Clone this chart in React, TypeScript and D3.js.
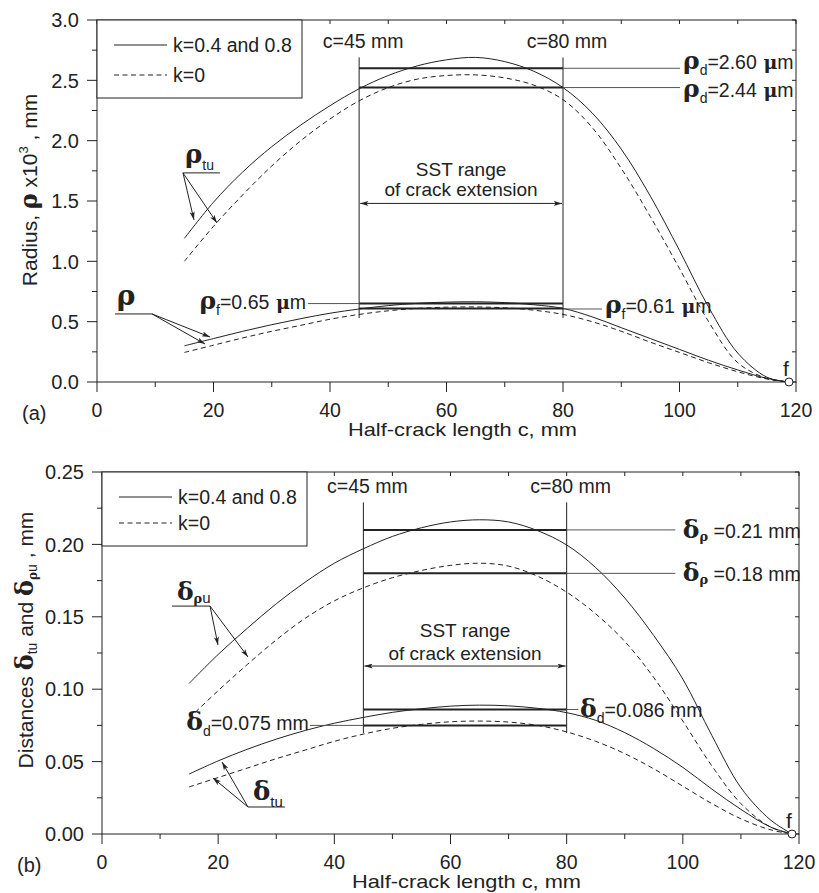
import React, { useEffect, useRef } from "react";
import * as d3 from "d3";

const W = 819;
const H = 893;
const SANS = "'Liberation Sans', Arial, sans-serif";
const GREEK = "'DejaVu Serif', serif";
const INK = "#222";

// half-crack length c, mm (shared grid of both panels)
const crack = [15, 20, 25, 30, 35, 40, 45, 50, 55, 60, 65, 70, 75, 80, 85, 90, 95, 100, 105, 110, 115, 118.8];

// panel (a): radius rho x10^3, mm
const rhoTuK48 = [1.19, 1.49, 1.74, 1.95, 2.13, 2.29, 2.43, 2.54, 2.62, 2.67, 2.69, 2.655, 2.575, 2.44, 2.23, 1.93, 1.54, 1.09, 0.62, 0.24, 0.04, 0];
const rhoTuK0 = [1.0, 1.29, 1.55, 1.79, 2.0, 2.18, 2.33, 2.44, 2.51, 2.54, 2.545, 2.52, 2.46, 2.34, 2.11, 1.77, 1.37, 0.94, 0.5, 0.16, 0.03, 0];
const rhoK48 = [0.3, 0.36, 0.42, 0.475, 0.525, 0.57, 0.605, 0.633, 0.652, 0.662, 0.665, 0.658, 0.64, 0.61, 0.54, 0.45, 0.36, 0.27, 0.18, 0.1, 0.03, 0];
const rhoK0 = [0.245, 0.305, 0.365, 0.42, 0.47, 0.52, 0.56, 0.59, 0.61, 0.62, 0.622, 0.615, 0.595, 0.56, 0.5, 0.42, 0.33, 0.245, 0.16, 0.085, 0.025, 0];

// panel (b): distances, mm
const dRhoUK48 = [0.104, 0.124, 0.142, 0.159, 0.174, 0.187, 0.197, 0.2055, 0.2115, 0.2155, 0.217, 0.2155, 0.2095, 0.1996, 0.184, 0.163, 0.137, 0.107, 0.068, 0.032, 0.01, 0];
const dRhoUK0 = [0.08, 0.099, 0.117, 0.134, 0.149, 0.161, 0.17, 0.177, 0.182, 0.1855, 0.187, 0.185, 0.178, 0.167, 0.152, 0.133, 0.108, 0.078, 0.047, 0.021, 0.005, 0];
const dTuK48 = [0.0414, 0.0505, 0.0585, 0.0655, 0.0715, 0.0765, 0.0805, 0.084, 0.0865, 0.0883, 0.089, 0.0885, 0.0868, 0.0838, 0.0785, 0.07, 0.059, 0.046, 0.031, 0.017, 0.005, 0];
const dTuK0 = [0.0325, 0.039, 0.0455, 0.052, 0.058, 0.064, 0.069, 0.073, 0.0757, 0.0775, 0.078, 0.0773, 0.075, 0.0705, 0.064, 0.0555, 0.045, 0.033, 0.021, 0.0105, 0.003, 0];

// SST range and marked levels
const sstRange = [45, 80];
const levelsA = [2.6, 2.44, 0.65, 0.61];
const levelsB = [0.21, 0.18, 0.086, 0.075];
const endPoint = 118.8;

const legendLabels = ["k=0.4 and 0.8", "k=0"];

type Part = { t: string; g?: boolean; sub?: number; s?: number };

function rich(g: any, x: number, y: number, parts: Part[], size: number, anchor = "start", rotate = false) {
  const text = g.append("text")
    .attr("x", x).attr("y", y)
    .attr("font-family", SANS).attr("font-size", size)
    .attr("text-anchor", anchor).attr("fill", INK);
  if (rotate) text.attr("transform", `rotate(-90,${x},${y})`);
  let shift = 0;
  parts.forEach(p => {
    const target = p.sub ?? 0;
    const ts = text.append("tspan").attr("dy", target - shift).text(p.t);
    shift = target;
    if (p.g) ts.attr("font-family", GREEK).attr("font-weight", "bold");
    if (p.s) ts.attr("font-size", p.s);
  });
  return text;
}

function line(g: any, x1: number, y1: number, x2: number, y2: number, w = 1, col = INK) {
  return g.append("line").attr("x1", x1).attr("y1", y1).attr("x2", x2).attr("y2", y2)
    .attr("stroke", col).attr("stroke-width", w);
}

function drawFrame(g: any, x: any, y: any, yMajor: number[], yMinor: number[], fmt: (v: number) => string, tag: string, tagX: number) {
  const [l, r] = x.range();
  const [b, t] = y.range();
  g.append("rect").attr("x", l).attr("y", t).attr("width", r - l).attr("height", b - t)
    .attr("fill", "none").attr("stroke", INK).attr("stroke-width", 1);
  const xMajor = d3.range(0, 121, 20);
  const xMinor = d3.range(10, 121, 20);
  xMajor.forEach(v => {
    line(g, x(v), b, x(v), b + 10);
    line(g, x(v), t, x(v), t + 4);
    g.append("text").attr("x", x(v)).attr("y", b + 35).attr("text-anchor", "middle")
      .attr("font-family", SANS).attr("font-size", 19.5).attr("fill", INK).text(v);
  });
  xMinor.forEach(v => {
    line(g, x(v), b, x(v), b + 5);
    line(g, x(v), t, x(v), t + 4);
  });
  yMajor.forEach(v => {
    line(g, l - 10, y(v), l, y(v));
    line(g, r - 4, y(v), r, y(v));
    g.append("text").attr("x", l - 18).attr("y", y(v)).attr("dy", "0.36em").attr("text-anchor", "end")
      .attr("font-family", SANS).attr("font-size", 20).attr("fill", INK).text(fmt(v));
  });
  yMinor.forEach(v => {
    line(g, l - 5, y(v), l, y(v));
    line(g, r - 4, y(v), r, y(v));
  });
  g.append("text").attr("x", (l + r) / 2 + 16).attr("y", b + 54).attr("text-anchor", "middle")
    .attr("font-family", SANS).attr("font-size", 19).attr("fill", INK)
    .attr("textLength", 229).attr("lengthAdjust", "spacingAndGlyphs")
    .text("Half-crack length c, mm");
  g.append("text").attr("x", tagX).attr("y", b + 38).attr("font-family", SANS)
    .attr("font-size", 20).attr("fill", INK).text(tag);
}

function drawCurves(g: any, x: any, y: any, solid: number[], dashed: number[]) {
  const gen = d3.line<number>().x((_, i) => x(crack[i])).y(v => y(v)).curve(d3.curveCatmullRom.alpha(0.5));
  g.append("path").attr("d", gen(solid)).attr("fill", "none").attr("stroke", INK).attr("stroke-width", 1);
  g.append("path").attr("d", gen(dashed)).attr("fill", "none").attr("stroke", INK).attr("stroke-width", 1)
    .attr("stroke-dasharray", "5,3.5");
}

function drawLegend(g: any, l: number, t: number, gap: number) {
  g.append("rect").attr("x", l).attr("y", t).attr("width", 205).attr("height", 25 + gap + 23)
    .attr("fill", "white").attr("stroke", INK).attr("stroke-width", 1);
  legendLabels.forEach((lab, i) => {
    const yy = t + 25 + i * gap;
    line(g, l + 17, yy, l + 70, yy).attr("stroke-dasharray", i ? "5,3.5" : null);
    g.append("text").attr("x", l + 76).attr("y", yy + 7).attr("font-family", SANS)
      .attr("font-size", 19.5).attr("fill", INK).text(lab);
  });
}

function drawSST(g: any, x: any, y: any, top: number, bottom: number, arrowV: number, t1: number, t2: number) {
  sstRange.forEach(c => {
    line(g, x(c), y(top), x(c), y(bottom));
    g.append("text").attr("x", x(c) + 4).attr("y", y(top) - 9).attr("text-anchor", "middle")
      .attr("font-family", SANS).attr("font-size", 19.5).attr("fill", INK).text(`c=${c} mm`);
  });
  const cx = x((sstRange[0] + sstRange[1]) / 2);
  line(g, x(sstRange[0]) + 1, y(arrowV), x(sstRange[1]) - 1, y(arrowV))
    .attr("marker-start", "url(#ah)").attr("marker-end", "url(#ah)");
  g.append("text").attr("x", cx).attr("y", y(t1)).attr("text-anchor", "middle")
    .attr("font-family", SANS).attr("font-size", 19).attr("fill", INK).text("SST range");
  g.append("text").attr("x", cx).attr("y", y(t2)).attr("text-anchor", "middle")
    .attr("font-family", SANS).attr("font-size", 19).attr("fill", INK).text("of crack extension");
}

function pointer(g: any, x: any, y: any, from: number[], tips: number[][], under: number) {
  line(g, x(under), y(from[1]), x(from[0]), y(from[1]));
  tips.forEach(tp => line(g, x(from[0]), y(from[1]), x(tp[0]), y(tp[1])).attr("marker-end", "url(#ah)"));
}

function endMark(g: any, x: any, y: any) {
  g.append("text").attr("x", x(endPoint) - 3).attr("y", y(0) - 6).attr("text-anchor", "middle")
    .attr("font-family", SANS).attr("font-size", 21).attr("fill", INK).text("f");
  g.append("circle").attr("cx", x(endPoint)).attr("cy", y(0)).attr("r", 4)
    .attr("fill", "white").attr("stroke", INK).attr("stroke-width", 1);
}

export default function App() {
  const ref = useRef<SVGSVGElement>(null);

  useEffect(() => {
    const svg = d3.select(ref.current);
    svg.selectAll("*").remove();
    svg.append("defs").append("marker").attr("id", "ah")
      .attr("viewBox", "0 0 10 6").attr("refX", 10).attr("refY", 3)
      .attr("markerWidth", 10).attr("markerHeight", 5).attr("markerUnits", "userSpaceOnUse")
      .attr("orient", "auto-start-reverse")
      .append("path").attr("d", "M0,0 L10,3 L0,6 L2.5,3 Z").attr("fill", INK);

    // ---------- panel (a)
    const ga = svg.append("g");
    const xa = d3.scaleLinear().domain([0, 120]).range([97, 796]);
    const ya = d3.scaleLinear().domain([0, 3]).range([382, 20]);
    drawFrame(ga, xa, ya, d3.range(0, 3.01, 0.5), d3.range(0.25, 3, 0.5), d3.format(".1f"), "(a)", 22);
    drawLegend(ga, 97, 20, 30);
    drawCurves(ga, xa, ya, rhoTuK48, rhoTuK0);
    drawCurves(ga, xa, ya, rhoK48, rhoK0);
    drawSST(ga, xa, ya, 2.69, 0.53, 1.48, 1.71, 1.54);
    levelsA.forEach(v => line(ga, xa(sstRange[0]), ya(v), xa(sstRange[1]), ya(v), 2));
    // thin leaders to the level labels
    line(ga, xa(sstRange[1]), ya(levelsA[0]), xa(100.1), ya(levelsA[0]), 1, "#555");
    line(ga, xa(sstRange[1]), ya(levelsA[1]), xa(100.1), ya(levelsA[1]), 1, "#555");
    line(ga, xa(36.2), ya(levelsA[2]), xa(sstRange[0]), ya(levelsA[2]), 1, "#555");
    line(ga, xa(sstRange[1]), ya(0.605), xa(86.7), ya(0.605), 1, "#555");
    const rhoLab = (sub: string, val: string): Part[] => [
      { t: "ρ", g: true, s: 25 }, { t: sub, sub: 6, s: 14 }, { t: `=${val}`, sub: 0 },
      { t: " μ", g: true, s: 19 }, { t: "m" },
    ];
    rich(ga, xa(100.6), ya(levelsA[0]) + 1, rhoLab("d", "2.60"), 19.5);
    rich(ga, xa(100.6), ya(levelsA[1]) + 9, rhoLab("d", "2.44"), 19.5);
    rich(ga, xa(35.9), ya(levelsA[2]) + 5, rhoLab("f", "0.65"), 19.5, "end");
    rich(ga, xa(87.2), ya(levelsA[3]) + 5, rhoLab("f", "0.61"), 19.5);
    // curve labels with pointers
    rich(ga, xa(15.1), ya(1.815), [{ t: "ρ", g: true, s: 26 }, { t: "tu", sub: 7, s: 14 }], 19);
    pointer(ga, xa, ya, [14.76, 1.733], [[16.65, 1.343], [20.6, 1.318]], 21.1);
    rich(ga, xa(3.4), ya(0.64), [{ t: "ρ", g: true, s: 28 }], 19);
    line(ga, xa(3.09), ya(0.564), xa(9.44), ya(0.564));
    [[19.4, 0.373], [18.54, 0.315]].forEach(tp =>
      line(ga, xa(9.44), ya(0.564), xa(tp[0]), ya(tp[1])).attr("marker-end", "url(#ah)"));
    endMark(ga, xa, ya);
    rich(ga, 37, 190, [
      { t: "Radius, " }, { t: "ρ", g: true, s: 24 }, { t: " x10" }, { t: "3", sub: -9, s: 13 },
      { t: " , mm", sub: 0 },
    ], 21, "middle", true);

    // ---------- panel (b)
    const gb = svg.append("g");
    const xb = d3.scaleLinear().domain([0, 120]).range([102, 799]);
    const yb = d3.scaleLinear().domain([0, 0.25]).range([834, 472]);
    drawFrame(gb, xb, yb, d3.range(0, 0.2501, 0.05), d3.range(0.025, 0.25, 0.05), d3.format(".2f"), "(b)", 17);
    drawLegend(gb, 102, 472, 26);
    drawCurves(gb, xb, yb, dRhoUK48, dRhoUK0);
    drawCurves(gb, xb, yb, dTuK48, dTuK0);
    drawSST(gb, xb, yb, 0.229, 0.0697, 0.116, 0.1362, 0.1202);
    levelsB.forEach(v => line(gb, xb(sstRange[0]), yb(v), xb(sstRange[1]), yb(v), 2));
    line(gb, xb(sstRange[1]), yb(levelsB[0]), xb(98.7), yb(levelsB[0]), 1, "#555");
    line(gb, xb(sstRange[1]), yb(levelsB[1]), xb(98.7), yb(levelsB[1]), 1, "#555");
    line(gb, xb(sstRange[1]), yb(levelsB[2]), xb(82), yb(levelsB[2]), 1, "#555");
    line(gb, xb(35.8), yb(levelsB[3]), xb(sstRange[0]), yb(levelsB[3]), 1, "#555");
    const dRho = (val: string): Part[] => [
      { t: "δ", g: true, s: 25 }, { t: "ρ", g: true, sub: 3, s: 13 }, { t: ` =${val} mm`, sub: 0 },
    ];
    rich(gb, xb(100), yb(levelsB[0]) + 8, dRho("0.21"), 19.5);
    rich(gb, xb(100), yb(levelsB[1]) + 8, dRho("0.18"), 19.5);
    const dD = (val: string): Part[] => [
      { t: "δ", g: true, s: 25 }, { t: "d", sub: 6, s: 14 }, { t: `=${val} mm`, sub: 0 },
    ];
    rich(gb, xb(82.3), yb(levelsB[2]) + 8, dD("0.086"), 19.5);
    rich(gb, xb(35.6), yb(levelsB[3]) + 5, dD("0.075"), 19.5, "end");
    rich(gb, xb(12.9), yb(0.1615), [
      { t: "δ", g: true, s: 25 }, { t: "ρ", g: true, sub: 3, s: 13 }, { t: "u", sub: 3, s: 15 },
    ], 19);
    pointer(gb, xb, yb, [18.6, 0.1574], [[19.97, 0.1305], [25.14, 0.1222]], 12.05);
    rich(gb, xb(26.0), yb(0.0235), [{ t: "δ", g: true, s: 26 }, { t: "tu", sub: 7, s: 15 }], 19);
    line(gb, xb(25.14), yb(0.01865), xb(31.5), yb(0.01865));
    [[20.66, 0.0497], [19.1, 0.0387]].forEach(tp =>
      line(gb, xb(25.14), yb(0.01865), xb(tp[0]), yb(tp[1])).attr("marker-end", "url(#ah)"));
    endMark(gb, xb, yb);
    rich(gb, 33, 640, [
      { t: "Distances " }, { t: "δ", g: true, s: 24 }, { t: "tu", sub: 4, s: 14 },
      { t: " and ", sub: 0 }, { t: "δ", g: true, s: 24 }, { t: "ρ", g: true, sub: 4, s: 12 },
      { t: "u", sub: 4, s: 14 }, { t: " , mm", sub: 0 },
    ], 21, "middle", true);
  }, []);

  return (
    <div style={{ position: "absolute", left: 0, top: 0, background: "white" }}>
      <svg ref={ref} width={W} height={H} style={{ display: "block" }} />
    </div>
  );
}
